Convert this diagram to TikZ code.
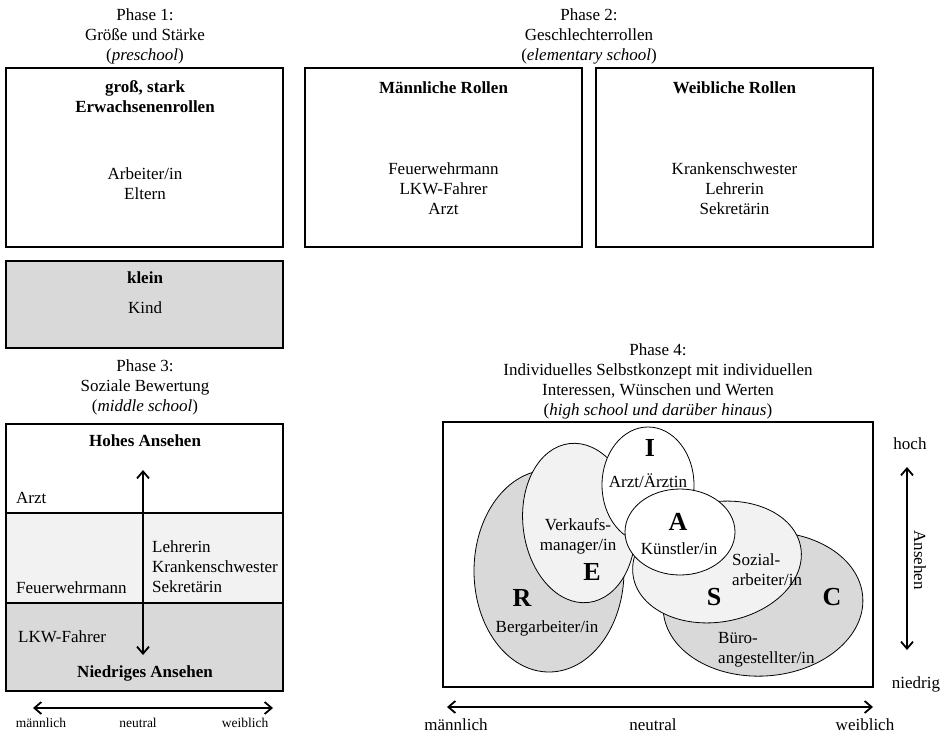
\documentclass[tikz,border=0pt]{standalone}
\usepackage{fontspec}
\setmainfont{Liberation Serif}
\usetikzlibrary{arrows.meta}
\definecolor{lightgrey}{gray}{0.95}
\definecolor{midgrey}{gray}{0.85}

\begin{document}
\begin{tikzpicture}[x=1pt, y=-1pt, font=\fontsize{17}{20}\selectfont,
  every node/.style={inner sep=1pt},
  head/.style={font=\fontsize{17}{20}\selectfont\bfseries},
  letter/.style={font=\fontsize{26}{28}\selectfont\bfseries},
  small/.style={font=\fontsize{13.5}{16}\selectfont},
  box/.style={draw, line width=2.6pt},
  oval/.style={draw, line width=0.8pt},
  axis/.style={line width=1.8pt, {Straight Barb[length=7pt,width=12pt]}-{Straight Barb[length=7pt,width=12pt]}}]
\useasboundingbox (0,0) rectangle (944,735);

% Phase 1
\node[align=center] (t1) at (145,36) {Phase 1:\\Größe und Stärke\\(\textit{preschool})};
\draw[box] (6,68) rectangle (283,247);
\node[head, align=center] (gross) at (145,97) {groß, stark\\Erwachsenenrollen};
\node[align=center] (adult) at (145,184) {Arbeiter/in\\Eltern};
\draw[box, fill=midgrey] (6,261) rectangle (283,348);
\node[head] (klein) at (145,278) {klein};
\node (kind) at (145,308) {Kind};

% Phase 2
\node[align=center] (t2) at (589,36) {Phase 2:\\Geschlechterrollen\\(\textit{elementary school})};
\draw[box] (305,68) rectangle (582,247);
\node[head] (male) at (443.5,88) {Männliche Rollen};
\node[align=center] (malejobs) at (443.5,189) {Feuerwehrmann\\LKW-Fahrer\\Arzt};
\draw[box] (596,68) rectangle (873,247);
\node[head] (female) at (734.5,88) {Weibliche Rollen};
\node[align=center] (femalejobs) at (734.5,189) {Krankenschwester\\Lehrerin\\Sekretärin};

% Phase 3
\node[align=center] (t3) at (145,387) {Phase 3:\\Soziale Bewertung\\(\textit{middle school})};
\fill[lightgrey] (6,513) rectangle (283,603);
\fill[midgrey] (6,603) rectangle (283,691);
\draw[line width=2pt] (6,513) -- (283,513) (6,603) -- (283,603);
\draw[box] (6,424) rectangle (283,691);
\coordinate (hi3) at (143,470);
\coordinate (lo3) at (143,655);
\draw[axis] (hi3) -- (lo3);
\node[head] (hohes) at (145,441) {Hohes Ansehen};
\node[anchor=west] (arzt3) at (15,498) {Arzt};
\node[anchor=west] (feuer3) at (15,588) {Feuerwehrmann};
\node[anchor=west, align=left] (frauen3) at (151,567) {Lehrerin\\Krankenschwester\\Sekretärin};
\node[anchor=west] (lkw3) at (17,637) {LKW-Fahrer};
\node[head] (niedriges) at (145,673) {Niedriges Ansehen};
\coordinate (m3) at (33,708);
\coordinate (w3) at (273,708);
\draw[axis] (m3) -- (w3);
\node[small] (maenn3) at (41,723) {männlich};
\node[small] (neutr3) at (138,723) {neutral};
\node[small] (weib3) at (245,723) {weiblich};

% Phase 4
\node[align=center] (t4) at (658,381) {Phase 4:\\Individuelles Selbstkonzept mit individuellen\\Interessen, Wünschen und Werten\\(\textit{high school und darüber hinaus})};
\draw[box] (443,422) rectangle (873,687);
\draw[oval, fill=midgrey] (549,571) ellipse [x radius=75, y radius=101];
\draw[oval, fill=lightgrey, rotate around={7:(579,523)}] (579,523) ellipse [x radius=56, y radius=80];
\draw[oval, fill=midgrey, rotate around={4:(763,604)}] (763,604) ellipse [x radius=100, y radius=72];
\draw[oval, fill=lightgrey, rotate around={10:(717,562)}] (717,562) ellipse [x radius=85, y radius=60];
\draw[oval, fill=white] (648,485) ellipse [x radius=46, y radius=58];
\draw[oval, fill=white] (680,532) ellipse [x radius=55, y radius=43];
\node[letter] (I) at (650,448) {I};
\node (arzt4) at (648,481) {Arzt/Ärztin};
\node[letter] (A) at (678,522) {A};
\node (kuenstler) at (679,549) {Künstler/in};
\node[align=center] (verkauf) at (578,536) {Verkaufs-\\manager/in};
\node[letter] (E) at (592,572) {E};
\node[letter] (R) at (522,598) {R};
\node (berg) at (547,628) {Bergarbeiter/in};
\node[anchor=west, align=left] (sozial) at (731,570) {Sozial-\\arbeiter/in};
\node[letter] (S) at (714,597) {S};
\node[letter] (C) at (832,597) {C};
\node[anchor=west, align=left] (buero) at (717,650) {Büro-\\angestellter/in};
\coordinate (hoch4) at (907,467);
\coordinate (tief4) at (907,650);
\draw[axis] (hoch4) -- (tief4);
\node (hoch) at (910,444) {hoch};
\node (niedrig) at (916,684) {niedrig};
\node[rotate=-90] (ansehen) at (920,560) {Ansehen};
\coordinate (m4) at (447,707);
\coordinate (w4) at (873,707);
\draw[axis] (m4) -- (w4);
\node (maenn4) at (456,725) {männlich};
\node (neutr4) at (653,725) {neutral};
\node (weib4) at (865,725) {weiblich};
\end{tikzpicture}
\end{document}
